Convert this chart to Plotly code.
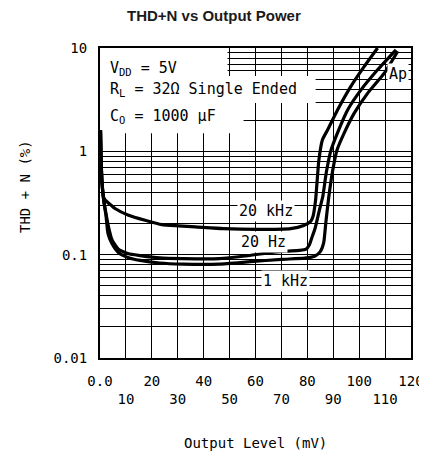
import math
import plotly.graph_objects as go

# ---- data ----
x_20khz = [0.2, 0.4, 0.8, 1.4, 1.9, 5.8, 11, 17.4, 23.9, 30.3, 36.8, 47.6, 60.7, 73.6, 78.6,
           81.3, 82.2, 83.2, 84.4, 85.8, 87.8, 91.6, 96.8, 101.9, 107.1]
y_20khz = [1.6, 0.86, 0.49, 0.36, 0.34, 0.28, 0.241, 0.215, 0.195, 0.19, 0.186, 0.179, 0.176, 0.179, 0.192,
           0.21, 0.235, 0.34, 0.8, 1.29, 1.61, 2.5, 4.25, 6.6, 10.0]

x_20hz = [0.2, 0.4, 0.8, 1.4, 2.3, 3.3, 4.6, 7.1, 11, 15.5, 23, 32, 46, 56, 61, 71, 77, 79.5,
          80.8, 81.7, 83.0, 84.5, 86.0, 87.3, 89.0, 91.6, 95.5, 100.7, 107.1, 114.2]
y_20hz = [1.6, 0.86, 0.49, 0.34, 0.25, 0.185, 0.14, 0.113, 0.102, 0.098, 0.093, 0.0915, 0.0915, 0.097, 0.101,
          0.108, 0.11, 0.113, 0.125, 0.145, 0.18, 0.26, 0.37, 0.62, 1.0, 1.5, 2.5, 3.93, 6.15, 9.6]

x_1khz = [0.2, 0.4, 0.8, 1.4, 2.3, 3.1, 4.6, 7.1, 11, 15.5, 23, 32, 46, 58, 70, 79, 83, 85,
          86.3, 87.1, 88.2, 89.8, 91.4, 94.2, 98.1, 103.3, 109.7, 114.9]
y_1khz = [1.6, 0.86, 0.49, 0.34, 0.24, 0.16, 0.128, 0.105, 0.0935, 0.088, 0.083, 0.081, 0.081, 0.0855, 0.09,
          0.0925, 0.097, 0.107, 0.13, 0.2, 0.35, 0.655, 1.02, 1.5, 2.34, 3.66, 5.71, 9.3]

x_ticks = list(range(0, 130, 10))
x_tick_text = ["0.0" if v == 0 else (str(v) if (v // 10) % 2 == 0 else "<br>" + str(v)) for v in x_ticks]
y_decades = [0.01, 0.1, 1, 10]
y_decade_text = ["0.01", "0.1", "1", "10"]

FONT = "DejaVu Sans Mono"
TITLE_FONT = "Liberation Sans, Arial"


def fy(v):
    """fraction of plot height for a value on the log axis (range 0.01..10)"""
    return (math.log10(v) + 2) / 3


# grid at every 1..9 multiple of each decade, labels only on decades
y_grid, y_grid_text = [], []
for d, lab in zip(y_decades[:-1], y_decade_text[:-1]):
    for m in range(1, 10):
        y_grid.append(round(d * m, 4))
        y_grid_text.append(lab if m == 1 else "")
y_grid.append(y_decades[-1])
y_grid_text.append(y_decade_text[-1])

fig = go.Figure()

# white areas behind the condition text block (drawn over the grid, under the curves)
rects = [(0, 49.2, 5.35, 10), (0, 83.2, 2.93, 5.35), (0, 55.4, 1.5, 2.93)]
for x0, x1, y0, y1 in rects:
    fig.add_trace(go.Scatter(x=[x0, x1, x1, x0, x0], y=[y0, y0, y1, y1, y0], mode="lines",
                             fill="toself", fillcolor="white", line=dict(width=0, color="white"),
                             showlegend=False, hoverinfo="skip"))

for xs, ys in [(x_20khz, y_20khz), (x_20hz, y_20hz), (x_1khz, y_1khz)]:
    fig.add_trace(go.Scatter(x=xs, y=ys, mode="lines",
                             line=dict(color="black", width=3.2, shape="spline", smoothing=0.5),
                             showlegend=False, hoverinfo="skip"))

# page body has an 8px margin, so the figure is offset; margins compensate
fig.update_layout(
    width=427, height=457,
    margin=dict(l=92, r=24, t=40, b=107, autoexpand=False),
    paper_bgcolor="white", plot_bgcolor="white",
    font=dict(family=FONT, size=14, color="black"),
    showlegend=False,
)
fig.update_xaxes(range=[0, 120], tickvals=x_ticks, ticktext=x_tick_text, tickangle=0,
                 showgrid=True, gridcolor="black", gridwidth=1, automargin=False,
                 showline=True, linecolor="black", linewidth=2, mirror=True,
                 zeroline=False, ticks="", ticklabelstandoff=9,
                 tickfont=dict(family=FONT, size=14, color="black"))
fig.update_yaxes(type="log", range=[-2, 1], tickvals=y_grid, ticktext=y_grid_text,
                 showgrid=True, gridcolor="black", gridwidth=1, automargin=False,
                 showline=True, linecolor="black", linewidth=2, mirror=True,
                 zeroline=False, ticks="", ticklabelstandoff=8,
                 tickfont=dict(family=FONT, size=14, color="black"))

cond = [("V<sub>DD</sub> = 5V", 6.4), ("R<sub>L</sub> = 32\u03a9 Single Ended", 3.95),
        ("C<sub>O</sub> = 1000 \u03bcF", 2.18)]
for txt, yv in cond:
    fig.add_annotation(x=3.0, y=fy(yv), xref="x", yref="paper", text=txt, showarrow=False,
                       xanchor="left", yanchor="middle", font=dict(family=FONT, size=15))

labels = [("20 kHz", 63.9, 0.267), ("20 Hz", 63.1, 0.134), ("1 kHz", 71.6, 0.056), ("Ap", 114.8, 5.65)]
for txt, xv, yv in labels:
    fig.add_annotation(x=xv, y=fy(yv), xref="x", yref="paper", text=txt, showarrow=False,
                       xanchor="center", yanchor="middle", bgcolor="white", borderpad=1,
                       font=dict(family=FONT, size=15))

fig.add_annotation(x=(214 - 100) / 311, y=(358 - 16) / 310, xref="paper", yref="paper",
                   text="<b>THD+N vs Output Power</b>", showarrow=False,
                   xanchor="center", yanchor="middle",
                   font=dict(family=TITLE_FONT, size=15, color="#1a1a1a"))
fig.add_annotation(x=(25 - 100) / 311, y=(358 - 187) / 310, xref="paper", yref="paper",
                   text="THD + N (%)", showarrow=False, textangle=-90,
                   xanchor="center", yanchor="middle", font=dict(family=FONT, size=14))
fig.add_annotation(x=0.5, y=(358 - 443) / 310, xref="paper", yref="paper",
                   text="Output Level (mV)", showarrow=False,
                   xanchor="center", yanchor="middle", font=dict(family=FONT, size=14))

fig.write_html("out.html")
